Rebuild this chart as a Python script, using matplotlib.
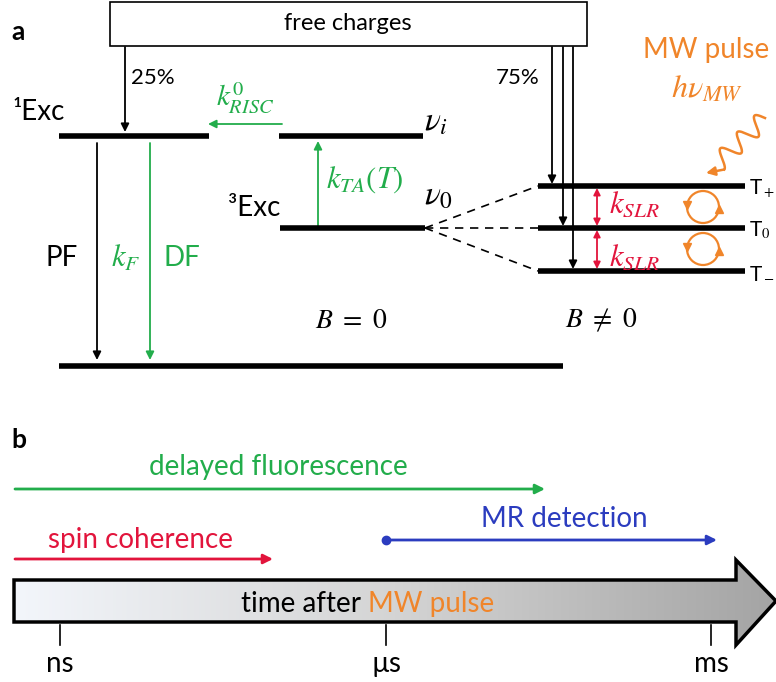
import numpy as np
import matplotlib.pyplot as plt
from matplotlib.colors import LinearSegmentedColormap
from matplotlib.patches import Polygon, Rectangle, Circle, FancyArrowPatch

plt.rcParams['font.family'] = ['Lato', 'DejaVu Sans']
plt.rcParams['mathtext.fontset'] = 'stix'

# colours
GREEN = '#22ad4b'
RED = '#e2143c'
ORANGE = '#f0852a'
BLUE = '#2b3cbf'

# panel a: energy levels (x0, x1, y) in pixel coords
level_names = ['S1', 'nu_i', 'nu_0', 'T+', 'T0', 'T-', 'S0']
level_x0 = [59, 279, 280, 538, 538, 538, 59]
level_x1 = [209, 423, 425, 745, 745, 745, 563]
level_y = [136, 136, 228, 186, 228, 271, 366]

# triplet sublevel labels
t_labels = ['T$_+$', 'T$_0$', 'T$_-$']

# charge injection arrows (x, y_end)
inject_x = [552, 563, 573]
inject_y = [186, 228, 271]

# panel b: timeline
tick_x = [60, 386, 711]
tick_labels = ['ns', 'µs', 'ms']
proc_names = ['delayed fluorescence', 'spin coherence', 'MR detection']
proc_start = [15, 15, 386]
proc_end = [545, 273, 717]
proc_y = [489, 559, 540]
proc_colors = [GREEN, RED, BLUE]
proc_text_xy = [(278, 467), (141, 540), (564, 519)]

fig = plt.figure(figsize=(7.76, 6.82), dpi=100)
ax = fig.add_axes([0, 0, 1, 1])
ax.set_xlim(0, 776)
ax.set_ylim(682, 0)
ax.axis('off')


def arrow(x0, y0, x1, y1, color, lw=1.3, style='-|>', ms=12):
    ax.add_patch(FancyArrowPatch((x0, y0), (x1, y1), arrowstyle=style,
                                 mutation_scale=ms, color=color, lw=lw,
                                 shrinkA=0, shrinkB=0))


# ---- panel a ----
ax.text(11, 32, 'a', fontsize=19, fontweight='bold', va='center')
ax.add_patch(Rectangle((110, 2), 477, 44, fill=False, ec='black', lw=1.2))
ax.text(348, 23, 'free charges', fontsize=17, ha='center', va='center')

for i in range(len(level_names)):
    ax.plot([level_x0[i], level_x1[i]], [level_y[i], level_y[i]],
            color='black', lw=4, solid_capstyle='butt')

# dashed splitting lines
for y in level_y[3:6]:
    ax.plot([425, 538], [228, y], color='black', lw=1.2, ls=(0, (5, 4)))

for lab, y in zip(t_labels, level_y[3:6]):
    ax.text(749, y + 2, lab, fontsize=15, va='center')

ax.text(12, 112, '¹Exc', fontsize=20, va='center')
ax.text(228, 208, '³Exc', fontsize=20, va='center')
ax.text(424, 122, r'$\nu_i$', fontsize=24, va='center')
ax.text(424, 196, r'$\nu_0$', fontsize=24, va='center')

# injection arrows
arrow(125, 47, 125, 132, 'black')
ax.text(131, 78, '25%', fontsize=16, va='center')
ax.text(496, 78, '75%', fontsize=16, va='center')
for x, y in zip(inject_x, inject_y):
    arrow(x, 47, x, y - 2, 'black')

# RISC / TA
arrow(282, 124, 208, 124, GREEN)
ax.text(216, 98, r'$k^{0}_{RISC}$', fontsize=21, color=GREEN, va='center')
arrow(318, 226, 318, 141, GREEN)
ax.text(326, 180, r'$k_{TA}(T)$', fontsize=22, color=GREEN, va='center')

# fluorescence
arrow(97, 143, 97, 360, 'black')
arrow(150, 143, 150, 360, GREEN)
ax.text(46, 258, 'PF', fontsize=20, va='center')
ax.text(111, 258, r'$k_F$', fontsize=22, color=GREEN, va='center')
ax.text(163, 258, 'DF', fontsize=20, color=GREEN, va='center')

ax.text(351, 320, r'$B\ =\ 0$', fontsize=20, ha='center', va='center')
ax.text(601, 320, r'$B\ \neq\ 0$', fontsize=20, ha='center', va='center')

# spin lattice relaxation
for ya, yb, yt in [(186, 228, 204), (228, 271, 257)]:
    arrow(597, ya + 2, 597, yb - 2, RED, style='<|-|>', ms=10)
    ax.text(609, yt, r'$k_{SLR}$', fontsize=22, color=RED, va='center')

# MW induced transitions
for cy in [207, 249]:
    ax.add_patch(Circle((703, cy), 16, fill=False, ec=ORANGE, lw=1.6))
    ax.plot([687], [cy - 2], marker='v', color=ORANGE, ms=6)
    ax.plot([719], [cy + 2], marker='^', color=ORANGE, ms=6)

ax.text(643, 50, 'MW pulse', fontsize=20, color=ORANGE, va='center')
ax.text(671, 88, r'$h\nu_{MW}$', fontsize=23, color=ORANGE, va='center')

# wavy photon
p0 = np.array([765.0, 118.0])
p1 = np.array([718.0, 163.0])
d = p1 - p0
L = np.hypot(*d)
u = d / L
n = np.array([-u[1], u[0]])
s = np.linspace(0, 1, 200)
wave = 9 * np.sin(2 * np.pi * 2.75 * s)
pts = p0 + np.outer(s * L, u) + np.outer(wave, n)
ax.plot(pts[:, 0], pts[:, 1], color=ORANGE, lw=1.8)
arrow(pts[-1, 0], pts[-1, 1], 706, 173, ORANGE, lw=1.8, ms=13)

# ---- panel b ----
ax.text(11, 440, 'b', fontsize=19, fontweight='bold', va='center')

for i in range(len(proc_names)):
    arrow(proc_start[i], proc_y[i], proc_end[i], proc_y[i], proc_colors[i], lw=2, ms=14)
    ax.text(proc_text_xy[i][0], proc_text_xy[i][1], proc_names[i], fontsize=20,
            color=proc_colors[i], ha='center', va='center')
ax.plot([proc_start[2]], [proc_y[2]], 'o', color=BLUE, ms=6)

# big gradient arrow
verts = [(14, 580), (736, 580), (736, 560), (776, 601), (736, 645),
         (736, 622), (14, 622)]
poly = Polygon(verts, closed=True, fc='none', ec='black', lw=2.5, zorder=3)
ax.add_patch(poly)
grad = np.linspace(0, 1, 256).reshape(1, -1)
cmap = LinearSegmentedColormap.from_list('g', ['#f3f6fb', '#d4d4d4', '#a4a4a4'])
img = ax.imshow(grad, extent=(14, 776, 645, 560), cmap=cmap, aspect='auto', zorder=2)
img.set_clip_path(poly)

ax.text(361, 604, 'time after', fontsize=20, ha='right', va='center', zorder=4)
ax.text(368, 604, 'MW pulse', fontsize=20, color=ORANGE, ha='left', va='center', zorder=4)

for x, lab in zip(tick_x, tick_labels):
    ax.plot([x, x], [625, 645], color='black', lw=1.2)
    ax.text(x, 664, lab, fontsize=20, ha='center', va='center')

fig.savefig('out.png', dpi=100)
